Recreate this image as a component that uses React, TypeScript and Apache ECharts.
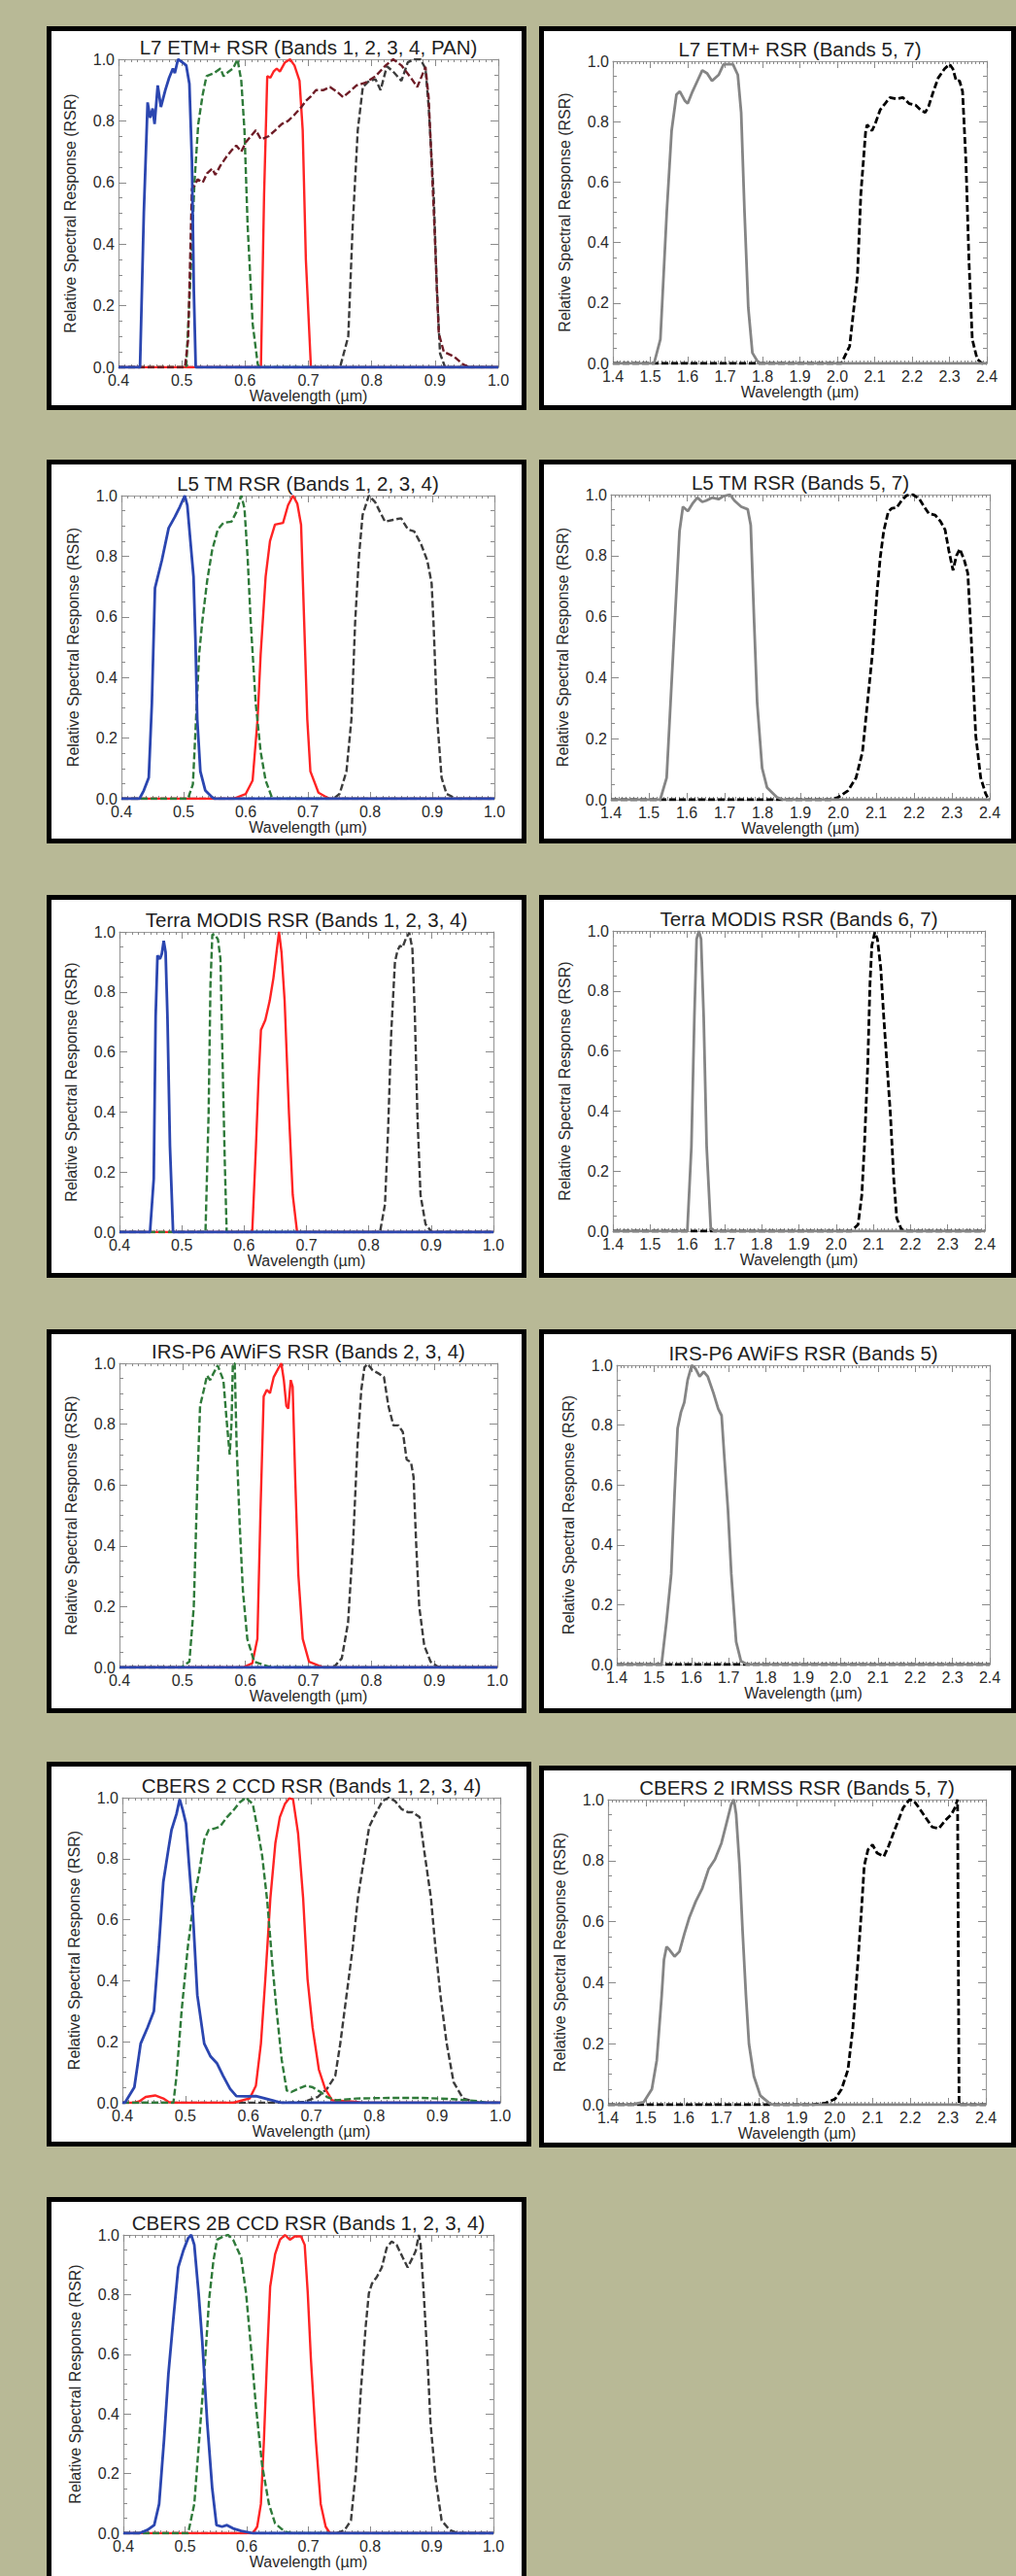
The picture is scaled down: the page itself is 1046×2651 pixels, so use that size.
import React, { useEffect, useRef } from "react";
import * as echarts from "echarts";

type Pt = [number, number];

// ---------- tick values ----------
const visTicks = [0.4, 0.5, 0.6, 0.7, 0.8, 0.9, 1.0];
const swirTicks = [1.4, 1.5, 1.6, 1.7, 1.8, 1.9, 2.0, 2.1, 2.2, 2.3, 2.4];
const rsrTicks = [0.0, 0.2, 0.4, 0.6, 0.8, 1.0];

// ---------- L7 ETM+ ----------
const l7Band1: Pt[] = [[0.434,0],[0.44,0.5],[0.446,0.86],[0.45,0.81],[0.454,0.84],[0.457,0.79],[0.462,0.915],[0.467,0.845],[0.474,0.9],[0.48,0.94],[0.486,0.97],[0.489,0.955],[0.494,1.0],[0.501,0.99],[0.507,0.98],[0.512,0.92],[0.516,0.67],[0.519,0.25],[0.522,0]];
const l7Band2: Pt[] = [[0.507,0],[0.515,0.35],[0.52,0.6],[0.526,0.79],[0.533,0.885],[0.539,0.945],[0.551,0.955],[0.561,0.97],[0.566,0.945],[0.574,0.96],[0.581,0.97],[0.588,1.0],[0.594,0.93],[0.599,0.77],[0.604,0.46],[0.612,0.14],[0.62,0.01],[0.623,0]];
const l7Band3: Pt[] = [[0.625,0],[0.63,0.56],[0.635,0.945],[0.64,0.94],[0.645,0.96],[0.65,0.97],[0.655,0.96],[0.663,0.99],[0.671,1.0],[0.678,0.98],[0.686,0.93],[0.691,0.77],[0.696,0.35],[0.704,0]];
const l7Band4: Pt[] = [[0.75,0],[0.763,0.1],[0.77,0.46],[0.778,0.77],[0.786,0.91],[0.796,0.93],[0.806,0.935],[0.814,0.9],[0.824,0.977],[0.834,0.96],[0.847,0.93],[0.857,0.99],[0.867,1.0],[0.877,1.0],[0.885,0.97],[0.89,0.845],[0.898,0.56],[0.903,0.25],[0.908,0.045],[0.916,0]];
const l7Pan: Pt[] = [[0.505,0],[0.51,0.09],[0.516,0.58],[0.52,0.59],[0.525,0.61],[0.533,0.6],[0.54,0.63],[0.548,0.645],[0.553,0.625],[0.561,0.655],[0.571,0.685],[0.579,0.705],[0.586,0.72],[0.594,0.7],[0.601,0.73],[0.609,0.75],[0.617,0.77],[0.625,0.74],[0.637,0.75],[0.648,0.77],[0.658,0.79],[0.668,0.8],[0.678,0.82],[0.689,0.845],[0.696,0.865],[0.704,0.88],[0.712,0.9],[0.724,0.9],[0.734,0.91],[0.745,0.895],[0.755,0.877],[0.765,0.895],[0.776,0.915],[0.791,0.925],[0.806,0.945],[0.822,0.98],[0.834,1.0],[0.847,0.98],[0.862,0.94],[0.872,0.91],[0.88,0.95],[0.885,0.975],[0.89,0.875],[0.898,0.51],[0.906,0.11],[0.914,0.05],[0.93,0.035],[0.944,0.01],[0.955,0]];
const l7Band5: Pt[] = [[1.51,0],[1.527,0.08],[1.544,0.5],[1.557,0.77],[1.57,0.89],[1.579,0.9],[1.592,0.87],[1.6,0.86],[1.613,0.9],[1.626,0.935],[1.639,0.97],[1.652,0.96],[1.665,0.935],[1.683,0.955],[1.696,0.99],[1.709,0.99],[1.721,0.99],[1.734,0.955],[1.743,0.83],[1.752,0.5],[1.762,0.185],[1.773,0.035],[1.79,0]];
const l7Band7: Pt[] = [[2.011,0],[2.033,0.057],[2.054,0.29],[2.063,0.56],[2.076,0.77],[2.08,0.79],[2.093,0.77],[2.102,0.795],[2.115,0.84],[2.128,0.86],[2.141,0.88],[2.158,0.875],[2.175,0.88],[2.192,0.86],[2.209,0.855],[2.222,0.84],[2.235,0.83],[2.244,0.85],[2.257,0.9],[2.27,0.945],[2.287,0.975],[2.3,0.99],[2.309,0.975],[2.318,0.935],[2.327,0.935],[2.335,0.9],[2.344,0.67],[2.352,0.345],[2.361,0.08],[2.374,0.015],[2.387,0]];

// ---------- L5 TM ----------
const l5Band1: Pt[] = [[0.429,0],[0.436,0.027],[0.444,0.07],[0.449,0.315],[0.454,0.695],[0.465,0.786],[0.476,0.893],[0.486,0.93],[0.494,0.963],[0.502,1.0],[0.506,0.968],[0.511,0.85],[0.516,0.733],[0.519,0.53],[0.522,0.262],[0.527,0.09],[0.535,0.027],[0.546,0.005],[0.55,0]];
const l5Band2: Pt[] = [[0.507,0],[0.515,0.048],[0.52,0.26],[0.525,0.476],[0.53,0.583],[0.538,0.72],[0.546,0.82],[0.555,0.888],[0.564,0.91],[0.577,0.914],[0.585,0.946],[0.593,1.0],[0.598,0.957],[0.603,0.797],[0.608,0.583],[0.616,0.316],[0.624,0.155],[0.632,0.06],[0.642,0.005],[0.645,0]];
const l5Band3: Pt[] = [[0.58,0],[0.6,0.016],[0.611,0.06],[0.619,0.262],[0.624,0.476],[0.632,0.733],[0.639,0.85],[0.647,0.904],[0.66,0.91],[0.668,0.968],[0.676,1.0],[0.683,0.973],[0.689,0.904],[0.694,0.583],[0.699,0.262],[0.704,0.09],[0.717,0.02],[0.73,0.005],[0.735,0]];
const l5Band4: Pt[] = [[0.741,0],[0.751,0.016],[0.762,0.09],[0.77,0.262],[0.776,0.583],[0.782,0.797],[0.788,0.936],[0.798,1.0],[0.808,0.979],[0.816,0.946],[0.824,0.914],[0.837,0.92],[0.85,0.925],[0.861,0.888],[0.871,0.882],[0.882,0.84],[0.892,0.786],[0.899,0.711],[0.902,0.583],[0.908,0.262],[0.915,0.07],[0.923,0.016],[0.939,0]];
const l5Band5: Pt[] = [[1.53,0],[1.547,0.072],[1.564,0.476],[1.581,0.88],[1.59,0.96],[1.603,0.946],[1.615,0.97],[1.628,0.99],[1.641,0.976],[1.651,0.98],[1.667,0.99],[1.684,0.985],[1.697,0.995],[1.714,1.0],[1.726,0.98],[1.744,0.96],[1.761,0.952],[1.769,0.9],[1.778,0.582],[1.786,0.317],[1.799,0.104],[1.812,0.04],[1.838,0.008],[1.855,0]];
const l5Band7: Pt[] = [[1.98,0],[2.0,0.008],[2.026,0.03],[2.047,0.072],[2.064,0.157],[2.077,0.317],[2.09,0.476],[2.103,0.689],[2.111,0.795],[2.12,0.88],[2.132,0.944],[2.141,0.955],[2.154,0.957],[2.167,0.98],[2.18,0.997],[2.197,1.0],[2.214,0.986],[2.227,0.96],[2.239,0.938],[2.256,0.933],[2.27,0.912],[2.282,0.885],[2.292,0.816],[2.303,0.752],[2.312,0.8],[2.321,0.822],[2.333,0.784],[2.342,0.742],[2.349,0.582],[2.355,0.423],[2.363,0.21],[2.376,0.072],[2.389,0.02],[2.397,0]];

// ---------- Terra MODIS ----------
const modisBlue: Pt[] = [[0.449,0],[0.455,0.178],[0.458,0.717],[0.461,0.921],[0.465,0.91],[0.468,0.927],[0.471,0.97],[0.474,0.932],[0.477,0.717],[0.481,0.286],[0.486,0]];
const modisGreen: Pt[] = [[0.538,0],[0.543,0.393],[0.546,0.825],[0.549,0.991],[0.553,0.991],[0.558,0.975],[0.562,0.91],[0.565,0.609],[0.569,0.232],[0.572,0]];
const modisRed: Pt[] = [[0.613,0],[0.619,0.286],[0.623,0.501],[0.627,0.673],[0.634,0.706],[0.641,0.77],[0.647,0.846],[0.652,0.932],[0.656,1.0],[0.66,0.932],[0.665,0.77],[0.672,0.393],[0.678,0.124],[0.685,0]];
const modisNir: Pt[] = [[0.818,0],[0.826,0.092],[0.831,0.34],[0.836,0.663],[0.842,0.9],[0.846,0.937],[0.85,0.954],[0.854,0.948],[0.86,0.98],[0.865,0.997],[0.87,0.943],[0.874,0.717],[0.878,0.393],[0.883,0.124],[0.891,0.027],[0.901,0]];
const modisBand6: Pt[] = [[1.6,0],[1.611,0.281],[1.619,0.714],[1.625,0.973],[1.631,1.0],[1.637,0.973],[1.644,0.714],[1.652,0.281],[1.663,0.011],[1.672,0]];
const modisBand7: Pt[] = [[2.041,0],[2.059,0.022],[2.069,0.119],[2.076,0.281],[2.085,0.551],[2.091,0.822],[2.096,0.951],[2.104,0.995],[2.111,0.973],[2.12,0.876],[2.128,0.714],[2.137,0.551],[2.146,0.389],[2.155,0.173],[2.163,0.043],[2.176,0.005],[2.19,0]];

// ---------- IRS-P6 AWiFS ----------
const awifsBand2: Pt[] = [[0.498,0],[0.511,0.019],[0.518,0.2],[0.524,0.626],[0.528,0.86],[0.534,0.913],[0.539,0.96],[0.544,0.945],[0.549,0.966],[0.556,0.993],[0.56,0.971],[0.565,0.945],[0.57,0.817],[0.575,0.7],[0.578,0.806],[0.58,0.998],[0.583,1.0],[0.586,0.732],[0.591,0.466],[0.596,0.253],[0.603,0.094],[0.614,0.019],[0.637,0.003],[0.65,0]];
const awifsBand3: Pt[] = [[0.596,0],[0.611,0.014],[0.619,0.094],[0.624,0.519],[0.629,0.891],[0.634,0.913],[0.639,0.902],[0.645,0.955],[0.652,0.982],[0.657,1.0],[0.661,0.945],[0.665,0.86],[0.668,0.851],[0.672,0.945],[0.675,0.923],[0.679,0.626],[0.684,0.306],[0.691,0.094],[0.701,0.019],[0.724,0]];
const awifsBand4: Pt[] = [[0.74,0],[0.753,0.03],[0.763,0.147],[0.771,0.413],[0.778,0.732],[0.784,0.913],[0.789,0.987],[0.794,0.998],[0.802,0.977],[0.812,0.966],[0.82,0.955],[0.827,0.86],[0.835,0.796],[0.843,0.796],[0.85,0.774],[0.856,0.684],[0.863,0.674],[0.867,0.626],[0.871,0.413],[0.876,0.2],[0.884,0.072],[0.894,0.019],[0.905,0.003],[0.915,0]];
const awifsBand5: Pt[] = [[1.52,0],[1.533,0.141],[1.546,0.303],[1.555,0.573],[1.563,0.789],[1.572,0.843],[1.581,0.876],[1.59,0.951],[1.601,1.0],[1.611,0.989],[1.622,0.962],[1.633,0.978],[1.644,0.962],[1.659,0.908],[1.672,0.854],[1.681,0.832],[1.689,0.681],[1.698,0.519],[1.707,0.303],[1.72,0.076],[1.733,0.011],[1.75,0]];

// ---------- CBERS 2 CCD / IRMSS ----------
const cbers2Band1: Pt[] = [[0.404,0],[0.419,0.051],[0.429,0.194],[0.44,0.247],[0.45,0.3],[0.458,0.512],[0.465,0.724],[0.473,0.83],[0.478,0.894],[0.486,0.947],[0.491,0.995],[0.496,0.958],[0.501,0.915],[0.506,0.777],[0.512,0.618],[0.519,0.353],[0.53,0.194],[0.54,0.152],[0.55,0.13],[0.56,0.088],[0.571,0.046],[0.581,0.022],[0.596,0.021],[0.612,0.022],[0.627,0.014],[0.643,0.005],[0.653,0]];
const cbers2Band2: Pt[] = [[0.481,0],[0.486,0.088],[0.494,0.3],[0.504,0.512],[0.514,0.671],[0.522,0.756],[0.53,0.862],[0.537,0.894],[0.548,0.9],[0.555,0.905],[0.566,0.936],[0.576,0.958],[0.586,0.984],[0.596,1.0],[0.607,0.979],[0.614,0.905],[0.622,0.809],[0.63,0.661],[0.638,0.459],[0.645,0.3],[0.653,0.141],[0.661,0.04],[0.668,0.035],[0.679,0.046],[0.692,0.056],[0.702,0.051],[0.715,0.035],[0.725,0.019],[0.74,0.008],[0.771,0.014],[0.823,0.016],[0.874,0.016],[0.925,0.012],[0.967,0.005],[0.977,0]];
const cbers2Band3: Pt[] = [[0.42,0],[0.427,0.005],[0.437,0.019],[0.452,0.024],[0.465,0.014],[0.473,0.003],[0.48,0],[0.576,0],[0.602,0.014],[0.612,0.056],[0.62,0.194],[0.627,0.406],[0.635,0.671],[0.643,0.852],[0.65,0.936],[0.658,0.979],[0.665,0.998],[0.671,0.995],[0.679,0.883],[0.687,0.671],[0.694,0.406],[0.702,0.247],[0.712,0.109],[0.722,0.046],[0.733,0.008],[0.771,0.003],[0.78,0]];
const cbers2Band4: Pt[] = [[0.658,0],[0.689,0.003],[0.71,0.019],[0.725,0.046],[0.738,0.088],[0.746,0.194],[0.756,0.353],[0.766,0.512],[0.774,0.671],[0.782,0.777],[0.792,0.905],[0.802,0.947],[0.813,0.989],[0.823,1.0],[0.833,0.989],[0.843,0.963],[0.854,0.952],[0.861,0.952],[0.872,0.936],[0.879,0.83],[0.89,0.671],[0.897,0.512],[0.905,0.353],[0.915,0.194],[0.926,0.067],[0.941,0.014],[0.962,0.003],[0.97,0]];
const cbers2Band5: Pt[] = [[1.46,0],[1.494,0.008],[1.516,0.051],[1.529,0.146],[1.542,0.358],[1.548,0.475],[1.555,0.518],[1.563,0.507],[1.576,0.486],[1.589,0.502],[1.602,0.56],[1.615,0.613],[1.632,0.666],[1.649,0.708],[1.666,0.772],[1.683,0.804],[1.7,0.857],[1.713,0.92],[1.726,0.984],[1.733,1.0],[1.739,0.952],[1.748,0.783],[1.756,0.571],[1.765,0.358],[1.773,0.199],[1.786,0.093],[1.803,0.03],[1.829,0.003],[1.84,0]];
const cbers2Band7: Pt[] = [[1.941,0],[1.975,0.005],[2.001,0.019],[2.018,0.051],[2.035,0.115],[2.048,0.252],[2.061,0.464],[2.07,0.624],[2.078,0.783],[2.088,0.836],[2.1,0.852],[2.112,0.825],[2.13,0.814],[2.142,0.846],[2.155,0.889],[2.168,0.931],[2.181,0.973],[2.198,1.0],[2.21,0.995],[2.223,0.973],[2.24,0.942],[2.258,0.91],[2.275,0.905],[2.292,0.931],[2.309,0.952],[2.318,0.973],[2.325,1.0],[2.329,0]];

// ---------- CBERS 2B CCD ----------
const cbers2bBand1: Pt[] = [[0.426,0],[0.439,0.011],[0.45,0.027],[0.458,0.098],[0.466,0.315],[0.473,0.533],[0.481,0.717],[0.489,0.891],[0.497,0.946],[0.505,0.989],[0.51,1.0],[0.515,0.967],[0.522,0.804],[0.528,0.641],[0.536,0.37],[0.544,0.152],[0.551,0.027],[0.56,0.022],[0.568,0.027],[0.578,0.016],[0.591,0.008],[0.61,0]];
const cbers2bBand2: Pt[] = [[0.505,0],[0.515,0.098],[0.523,0.315],[0.531,0.533],[0.539,0.783],[0.546,0.913],[0.552,0.984],[0.562,0.995],[0.57,1.0],[0.578,0.984],[0.591,0.924],[0.599,0.804],[0.607,0.62],[0.615,0.424],[0.625,0.228],[0.636,0.098],[0.646,0.033],[0.662,0.005],[0.673,0]];
const cbers2bBand3: Pt[] = [[0.61,0],[0.617,0.022],[0.623,0.098],[0.628,0.315],[0.633,0.587],[0.638,0.826],[0.646,0.935],[0.654,0.984],[0.662,1.0],[0.67,0.984],[0.678,0.995],[0.688,0.995],[0.694,0.967],[0.699,0.804],[0.704,0.587],[0.712,0.315],[0.72,0.098],[0.728,0.022],[0.735,0]];
const cbers2bBand4: Pt[] = [[0.746,0],[0.759,0.011],[0.769,0.043],[0.777,0.207],[0.785,0.478],[0.793,0.696],[0.798,0.804],[0.803,0.837],[0.811,0.859],[0.819,0.891],[0.827,0.957],[0.835,0.978],[0.843,0.967],[0.853,0.924],[0.861,0.891],[0.869,0.924],[0.874,0.946],[0.879,1.0],[0.882,0.967],[0.887,0.804],[0.893,0.587],[0.898,0.37],[0.906,0.185],[0.916,0.043],[0.929,0.011],[0.942,0]];
const zeroLine: Pt[] = [];

// ---------- styles ----------
const BG = "#b8b996";
const C_BLUE = "#2b46b0";
const C_GREEN = "#2f7a3a";
const C_RED = "#ff2424";
const C_NIR = "#3c3c3c";
const C_PAN = "#6e1c26";
const C_SWIR1 = "#858585";
const C_SWIR2 = "#000000";
const FONT = "'Liberation Sans', Arial, Helvetica, sans-serif";
const DASH = [7, 3];

type S = { d: Pt[]; c: string; dash?: boolean; w?: number };
type Panel = { title: string; frame: number[]; grid: number[]; ticks: number[]; series: S[] };

const visSet = (b4: Pt[], b3: Pt[], b2: Pt[], b1: Pt[], extra?: S): S[] => {
  const arr: S[] = [
    { d: b4, c: C_NIR, dash: true },
    { d: b3, c: C_RED },
    { d: b2, c: C_GREEN, dash: true },
  ];
  if (extra) arr.push(extra);
  arr.push({ d: b1, c: C_BLUE, w: 2.8 });
  return arr;
};
const swirSet = (b5: Pt[], b7: Pt[]): S[] => [
  { d: b7, c: C_SWIR2, dash: true, w: 2.8 },
  { d: b5, c: C_SWIR1, w: 2.8 },
];

const panels: Panel[] = [
  { title: "L7 ETM+ RSR (Bands 1, 2, 3, 4, PAN)", frame: [48, 27, 542, 422], grid: [122, 61, 513, 378], ticks: visTicks,
    series: visSet(l7Band4, l7Band3, l7Band2, l7Band1, { d: l7Pan, c: C_PAN, dash: true }) },
  { title: "L7 ETM+ RSR (Bands 5, 7)", frame: [555, 27, 1046, 422], grid: [631, 63, 1016, 374], ticks: swirTicks,
    series: swirSet(l7Band5, l7Band7) },
  { title: "L5 TM RSR (Bands 1, 2, 3, 4)", frame: [48, 473, 542, 868], grid: [125, 510, 509, 822], ticks: visTicks,
    series: visSet(l5Band4, l5Band3, l5Band2, l5Band1) },
  { title: "L5 TM RSR (Bands 5, 7)", frame: [555, 473, 1046, 868], grid: [629, 509, 1019, 823], ticks: swirTicks,
    series: swirSet(l5Band5, l5Band7) },
  { title: "Terra MODIS RSR (Bands 1, 2, 3, 4)", frame: [48, 921, 542, 1315], grid: [123, 959, 508, 1268], ticks: visTicks,
    series: visSet(modisNir, modisRed, modisGreen, modisBlue) },
  { title: "Terra MODIS RSR (Bands 6, 7)", frame: [555, 921, 1046, 1315], grid: [631, 958, 1014, 1267], ticks: swirTicks,
    series: swirSet(modisBand6, modisBand7) },
  { title: "IRS-P6 AWiFS RSR (Bands 2, 3, 4)", frame: [48, 1368, 542, 1763], grid: [123, 1403, 512, 1716], ticks: visTicks,
    series: visSet(awifsBand4, awifsBand3, awifsBand2, zeroLine) },
  { title: "IRS-P6 AWiFS RSR (Bands 5)", frame: [555, 1368, 1046, 1763], grid: [635, 1405, 1019, 1713], ticks: swirTicks,
    series: swirSet(awifsBand5, zeroLine) },
  { title: "CBERS 2 CCD RSR (Bands 1, 2, 3, 4)", frame: [48, 1813, 547, 2209], grid: [126, 1850, 515, 2164], ticks: visTicks,
    series: visSet(cbers2Band4, cbers2Band3, cbers2Band2, cbers2Band1) },
  { title: "CBERS 2 IRMSS RSR (Bands 5, 7)", frame: [555, 1817, 1046, 2210], grid: [626, 1852, 1015, 2166], ticks: swirTicks,
    series: swirSet(cbers2Band5, cbers2Band7) },
  { title: "CBERS 2B CCD RSR (Bands 1, 2, 3, 4)", frame: [48, 2261, 542, 2670], grid: [127, 2300, 508, 2607], ticks: visTicks,
    series: visSet(cbers2bBand4, cbers2bBand3, cbers2bBand2, cbers2bBand1) },
];

const pad = (d: Pt[], min: number, max: number): Pt[] => {
  const out: Pt[] = [];
  if (!d.length || d[0][0] > min) out.push([min, 0]);
  out.push(...d);
  if (!d.length || d[d.length - 1][0] < max) out.push([max, 0]);
  return out;
};

function buildOption() {
  const grids: any[] = [];
  const xAxes: any[] = [];
  const yAxes: any[] = [];
  const series: any[] = [];
  const graphics: any[] = [];

  const axisLine = { show: true, onZero: false, lineStyle: { color: "#9c9c9c", width: 1.2 } };
  const tickStyle = { color: "#8a8a8a", width: 1 };
  const nameStyle = { fontSize: 16, color: "#2a2a2a", fontFamily: FONT };
  const labelStyle = { fontSize: 16, color: "#2a2a2a", fontFamily: FONT };

  panels.forEach((p, i) => {
    const [fx1, fy1, fx2, fy2] = p.frame;
    graphics.push({ type: "rect", z: -10, silent: true, shape: { x: fx1, y: fy1, width: fx2 - fx1, height: fy2 - fy1 }, style: { fill: "#000" } });
    graphics.push({ type: "rect", z: -9, silent: true, shape: { x: fx1 + 5, y: fy1 + 5, width: fx2 - fx1 - 10, height: fy2 - fy1 - 10 }, style: { fill: "#fff" } });
    const [gx1, gy1, gx2, gy2] = p.grid;
    graphics.push({ type: "text", z: 10, silent: true, x: (gx1 + gx2) / 2, y: gy1 - 13,
      style: { text: p.title, fill: "#1e1e1e", font: `20.5px ${FONT}`, textAlign: "center", textVerticalAlign: "middle" } });

    grids.push({ left: gx1, top: gy1, width: gx2 - gx1, height: gy2 - gy1, containLabel: false });
    const t = p.ticks;
    const xmin = t[0], xmax = t[t.length - 1];
    const xint = Math.round((t[1] - t[0]) * 1000) / 1000;
    const ymin = rsrTicks[0], ymax = rsrTicks[rsrTicks.length - 1];
    const yint = Math.round((rsrTicks[1] - rsrTicks[0]) * 1000) / 1000;
    const xBase = { type: "value", gridIndex: i, min: xmin, max: xmax, interval: xint, axisLine, splitLine: { show: false },
      axisTick: { show: true, inside: true, length: 7, lineStyle: tickStyle },
      minorTick: { show: true, splitNumber: 10, length: 3, lineStyle: tickStyle } };
    const yBase = { type: "value", gridIndex: i, min: ymin, max: ymax, interval: yint, axisLine, splitLine: { show: false },
      axisTick: { show: true, inside: true, length: 8, lineStyle: tickStyle },
      minorTick: { show: true, splitNumber: 4, length: 4, lineStyle: tickStyle } };
    const xi = xAxes.length;
    xAxes.push({ ...xBase, position: "bottom",
      axisLabel: { ...labelStyle, margin: 5, formatter: (v: number) => v.toFixed(1) },
      name: "Wavelength (µm)", nameLocation: "middle", nameGap: 20, nameTextStyle: nameStyle });
    xAxes.push({ ...xBase, position: "top", axisLabel: { show: false } });
    const yi = yAxes.length;
    yAxes.push({ ...yBase, position: "left",
      axisLabel: { ...labelStyle, margin: 4, formatter: (v: number) => v.toFixed(1) },
      name: "Relative Spectral Response (RSR)", nameLocation: "middle", nameGap: 42, nameTextStyle: nameStyle });
    yAxes.push({ ...yBase, position: "right", axisLabel: { show: false } });

    p.series.forEach((s) => {
      series.push({
        type: "line", xAxisIndex: xi, yAxisIndex: yi, data: pad(s.d, xmin, xmax),
        symbol: "none", showSymbol: false, silent: true, clip: true,
        lineStyle: { color: s.c, width: s.w ?? 2.4, type: s.dash ? DASH : "solid" },
      });
    });
  });

  return {
    animation: false,
    backgroundColor: BG,
    textStyle: { fontFamily: FONT },
    graphic: { elements: graphics },
    grid: grids,
    xAxis: xAxes,
    yAxis: yAxes,
    series,
  };
}

export default function App() {
  const ref = useRef<HTMLDivElement>(null);
  useEffect(() => {
    document.body.style.margin = "0";
    document.body.style.overflow = "hidden";
    if (!ref.current) return;
    const chart = echarts.init(ref.current, undefined, { renderer: "svg" });
    chart.setOption(buildOption() as any);
    return () => chart.dispose();
  }, []);
  return <div ref={ref} style={{ position: "absolute", left: 0, top: 0, width: 1046, height: 2651 }} />;
}
